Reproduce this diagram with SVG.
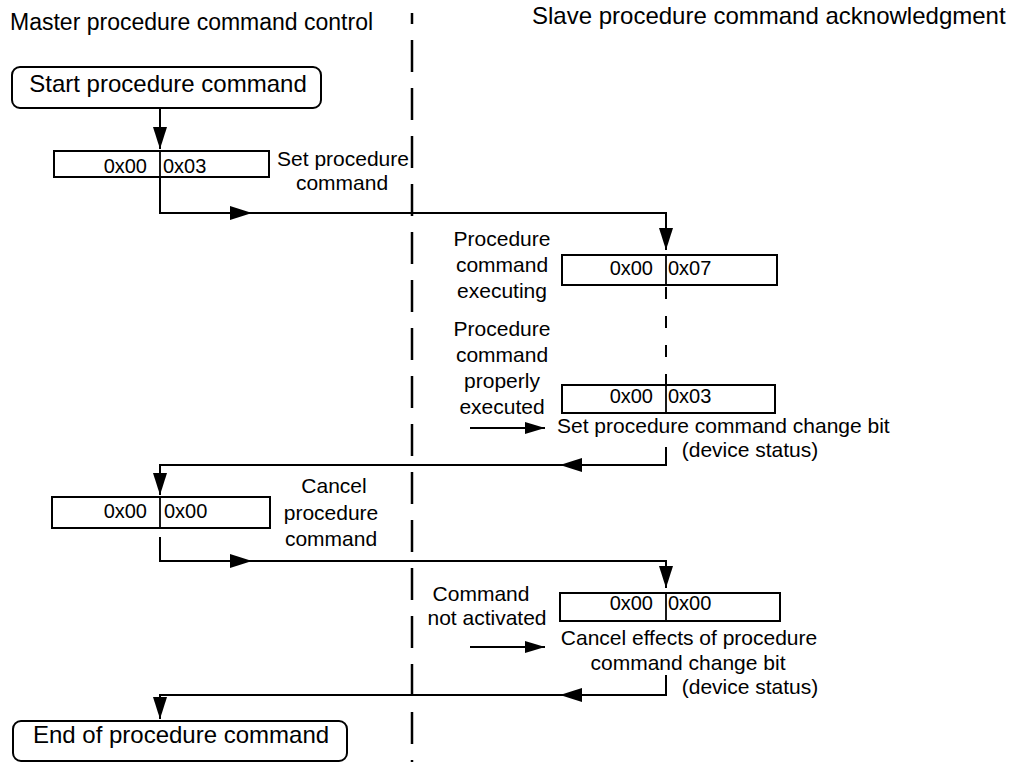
<svg xmlns="http://www.w3.org/2000/svg" width="1010" height="762" viewBox="0 0 1010 762">
<style>
text{font-family:"Liberation Sans",Arial,sans-serif;fill:#000}
.hd{font-size:23px}
.big{font-size:24px;text-anchor:middle}
.lb{font-size:21px}
.mid{text-anchor:middle}
.rg{font-size:20px}
.e{text-anchor:end}
.box{fill:#fff;stroke:#000;stroke-width:2}
.dv{stroke:#000;stroke-width:1.8}
.ln{fill:none;stroke:#000;stroke-width:2}
.lane{fill:none;stroke:#000;stroke-width:2.5;stroke-dasharray:32 16;stroke-dashoffset:21}
.dsh{fill:none;stroke:#000;stroke-width:2;stroke-dasharray:12 17}
</style>
<defs>
<marker id="ah" markerUnits="userSpaceOnUse" markerWidth="22" markerHeight="14" refX="22" refY="7" orient="auto"><path d="M0,0 L22,7 L0,14 z" fill="#000"/></marker>
<marker id="ahs" markerUnits="userSpaceOnUse" markerWidth="20" markerHeight="12" refX="20" refY="6" orient="auto"><path d="M0,0 L20,6 L0,12 z" fill="#000"/></marker>
</defs>
<rect width="1010" height="762" fill="#fff"/>

<g id="headers">
<text class="hd" x="10" y="30">Master procedure command control</text>
<text class="hd" x="532" y="24" style="font-size:24px">Slave procedure command acknowledgment</text>
</g>

<g id="connectors">
<line class="lane" x1="412" y1="13" x2="412" y2="762"/>
<line class="ln" x1="160" y1="108" x2="160" y2="149" marker-end="url(#ah)"/>
<path class="ln" d="M160,177 V213 H252" marker-end="url(#ah)"/>
<path class="ln" d="M250,213 H666 V250" marker-end="url(#ah)"/>
<line class="dsh" x1="666" y1="287" x2="666" y2="385"/>
<path class="ln" d="M666,447 V465 H560" marker-end="url(#ah)"/>
<path class="ln" d="M562,465 H160 V495" marker-end="url(#ah)"/>
<path class="ln" d="M160,537 V561 H252" marker-end="url(#ah)"/>
<path class="ln" d="M250,561 H666 V588" marker-end="url(#ah)"/>
<path class="ln" d="M666,675 V695 H560" marker-end="url(#ah)"/>
<path class="ln" d="M562,695 H160 V719" marker-end="url(#ah)"/>
<line class="ln" x1="470" y1="428" x2="545" y2="428" marker-end="url(#ahs)"/>
<line class="ln" x1="470" y1="647" x2="545" y2="647" marker-end="url(#ahs)"/>
</g>

<g id="start">
<rect class="box" x="12" y="67" width="309" height="41" rx="8"/>
<text class="big" x="168" y="92">Start procedure command</text>
</g>

<g id="reg1">
<rect class="box" x="54" y="151" width="215" height="26"/>
<line class="dv" x1="160" y1="151" x2="160" y2="177"/>
<text class="rg e" x="147" y="173">0x00</text>
<text class="rg" x="163" y="173">0x03</text>
</g>
<g id="label-set">
<text class="lb mid" x="343" y="166">Set procedure</text>
<text class="lb mid" x="342" y="190">command</text>
</g>

<g id="reg2">
<rect class="box" x="562" y="255" width="215" height="30"/>
<line class="dv" x1="666" y1="255" x2="666" y2="285"/>
<text class="rg e" x="653" y="275">0x00</text>
<text class="rg" x="668" y="275">0x07</text>
</g>
<g id="label-executing">
<text class="lb mid" x="502" y="246">Procedure</text>
<text class="lb mid" x="502" y="272">command</text>
<text class="lb mid" x="502" y="298">executing</text>
</g>

<g id="reg3">
<rect class="box" x="562" y="385" width="213" height="28"/>
<line class="dv" x1="666" y1="385" x2="666" y2="413"/>
<text class="rg e" x="653" y="403">0x00</text>
<text class="rg" x="668" y="403">0x03</text>
</g>
<g id="label-executed">
<text class="lb mid" x="502" y="336">Procedure</text>
<text class="lb mid" x="502" y="362">command</text>
<text class="lb mid" x="502" y="388">properly</text>
<text class="lb mid" x="502" y="414">executed</text>
<text class="lb" x="557" y="433">Set procedure command change bit</text>
<text class="lb mid" x="750" y="457">(device status)</text>
</g>

<g id="reg4">
<rect class="box" x="52" y="497" width="218" height="31"/>
<line class="dv" x1="160" y1="497" x2="160" y2="528"/>
<text class="rg e" x="147" y="518">0x00</text>
<text class="rg" x="164" y="518">0x00</text>
</g>
<g id="label-cancel">
<text class="lb mid" x="334" y="493">Cancel</text>
<text class="lb mid" x="331" y="520">procedure</text>
<text class="lb mid" x="331" y="546">command</text>
</g>

<g id="reg5">
<rect class="box" x="560" y="593" width="220" height="28"/>
<line class="dv" x1="666" y1="593" x2="666" y2="621"/>
<text class="rg e" x="653" y="610">0x00</text>
<text class="rg" x="668" y="610">0x00</text>
</g>
<g id="label-notactivated">
<text class="lb mid" x="481" y="601">Command</text>
<text class="lb mid" x="487" y="625">not activated</text>
<text class="lb mid" x="689" y="645">Cancel effects of procedure</text>
<text class="lb mid" x="688" y="670">command change bit</text>
<text class="lb mid" x="750" y="694">(device status)</text>
</g>

<g id="end">
<rect class="box" x="13" y="721" width="334" height="40" rx="8"/>
<text class="big" x="181" y="743">End of procedure command</text>
</g>
</svg>
